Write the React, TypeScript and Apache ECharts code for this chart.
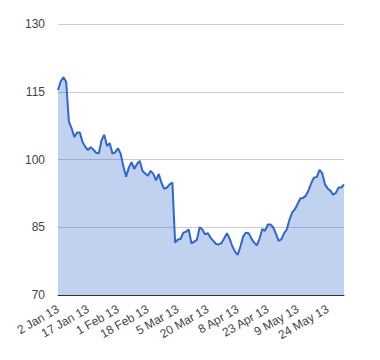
import React, { useEffect, useRef } from "react";
import * as echarts from "echarts";

// Trading days (day numbers) per month, 2013
const janDays = [2, 3, 4, 7, 8, 9, 10, 11, 14, 15, 16, 17, 18, 21, 22, 23, 24, 25, 28, 29, 30, 31];
const febDays = [1, 4, 5, 6, 7, 8, 11, 12, 13, 14, 15, 18, 19, 20, 21, 22, 25, 26, 27, 28];
const marDays = [1, 4, 5, 6, 7, 8, 11, 12, 13, 14, 15, 18, 19, 20, 21, 22, 25, 26, 27, 28];
const aprDays = [2, 3, 4, 5, 8, 9, 10, 11, 12, 15, 16, 17, 18, 19, 22, 23, 24, 25, 26, 29, 30];
const mayDays = [2, 3, 6, 7, 8, 9, 10, 13, 14, 15, 16, 17, 20, 21, 22, 23, 24, 27, 28, 29, 30, 31];
const junDays = [3];

const monthNames = ["Jan", "Feb", "Mar", "Apr", "May", "Jun"];
const monthDays = [janDays, febDays, marDays, aprDays, mayDays, junDays];

const values = [
  115.4, 117.3, 118.2, 117.2, 108.4, 106.9, 105.0, 106.0, 106.0, 103.9,
  102.8, 102.1, 102.7, 102.2, 101.5, 101.4, 104.3, 105.5, 103.0, 103.6,
  101.3, 101.6, 102.5, 101.3, 98.5, 96.2, 98.2, 99.4, 97.9, 99.0,
  99.7, 97.5, 96.9, 96.4, 97.5, 96.8, 95.4, 96.8, 94.8, 93.5,
  93.8, 94.5, 94.9, 81.6, 82.3, 82.4, 83.8, 84.0, 84.5, 81.4,
  81.8, 82.2, 85.0, 84.5, 83.4, 83.7, 82.7, 82.0, 81.3, 81.2,
  81.5, 82.5, 83.7, 82.5, 80.8, 79.6, 78.9, 80.8, 83.0, 83.8,
  83.7, 82.5, 81.6, 81.0, 82.5, 84.6, 84.2, 85.6, 85.6, 85.0,
  83.6, 82.0, 82.3, 83.7, 84.5, 86.7, 88.3, 89.0, 90.2, 91.4,
  91.5, 92.0, 93.2, 94.8, 96.0, 96.1, 97.7, 97.0, 94.5, 93.6,
  93.1, 92.2, 92.6, 93.8, 93.8, 94.5,
];

const yMin = 70;
const yMax = 130;
const yStep = 15;

const categories: string[] = [];
monthDays.forEach((days, m) => {
  days.forEach((d) => categories.push(`${d} ${monthNames[m]} 13`));
});

export default function App() {
  const ref = useRef<HTMLDivElement>(null);
  useEffect(() => {
    if (!ref.current) return;
    const chart = echarts.init(ref.current, null, { renderer: "svg" });
    chart.setOption({
      animation: false,
      backgroundColor: "#ffffff",
      textStyle: { fontFamily: "Liberation Sans, Arial, sans-serif" },
      grid: { left: 58, right: 36, top: 24, bottom: 65, containLabel: false },
      xAxis: {
        type: "category",
        data: categories,
        boundaryGap: false,
        axisLine: { show: true, lineStyle: { color: "#333333", width: 1 } },
        axisTick: { show: false },
        axisLabel: {
          interval: 10,
          rotate: 30,
          fontSize: 12,
          color: "#444444",
          margin: 13,
          fontFamily: "Liberation Sans, Arial, sans-serif",
        },
        splitLine: { show: false },
      },
      yAxis: {
        type: "value",
        min: yMin,
        max: yMax,
        interval: yStep,
        axisLine: { show: false },
        axisTick: { show: false },
        axisLabel: {
          fontSize: 12,
          color: "#444444",
          margin: 13,
          fontFamily: "Liberation Sans, Arial, sans-serif",
        },
        splitLine: { lineStyle: { color: "#cccccc", width: 1 } },
      },
      series: [
        {
          type: "line",
          data: values,
          symbol: "none",
          lineStyle: { color: "#3366cc", width: 2 },
          areaStyle: { color: "#3366cc", opacity: 0.3, origin: "start" },
          itemStyle: { color: "#3366cc" },
        },
      ],
    });
    return () => chart.dispose();
  }, []);
  return (
    <div
      ref={ref}
      style={{ position: "fixed", left: 0, top: 0, width: 380, height: 360 }}
    />
  );
}
